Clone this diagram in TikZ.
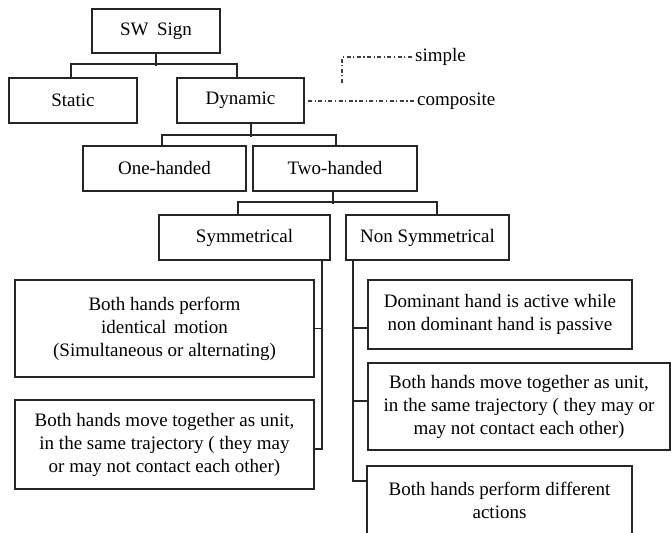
\documentclass[tikz,border=0pt]{standalone}
\usepackage{fontspec}
\setmainfont{Liberation Serif}
\begin{document}
\begin{tikzpicture}[x=1pt,y=-1pt,
  box/.style={draw=black!85,line width=1.6pt,rectangle,inner sep=0pt,align=center,
    font=\fontsize{19}{23}\selectfont,text=black},
  conn/.style={draw=black!85,line width=1.6pt},
  leg/.style={draw=black!75,line width=1.1pt,dash pattern=on 4pt off 2.5pt on 1.2pt off 2.5pt},
  legtext/.style={font=\fontsize{19}{23}\selectfont,inner sep=2pt,anchor=west}]
\useasboundingbox (0,0) rectangle (671,532);
% boxes
\node[box,minimum width=128,minimum height=44] (sw) at (156,31) {SW\hspace{0.45em}Sign};
\node[box,minimum width=128,minimum height=45] (static) at (73,100.5) {Static};
\node[box,minimum width=127,minimum height=45] (dyn) at (240.5,100.5) {Dynamic};
\node[box,minimum width=163,minimum height=45] (one) at (164.5,168.5) {One-handed};
\node[box,minimum width=164,minimum height=45] (two) at (335,168.5) {Two-handed};
\node[box,minimum width=171,minimum height=45] (sym) at (244.5,237.5) {Symmetrical};
\node[box,minimum width=163,minimum height=45] (nsym) at (427.5,237.5) {Non Symmetrical};
\node[box,minimum width=299,minimum height=97] (b1) at (164.5,328.5)
  {Both hands perform\\identical\hspace{0.4em}motion\\(Simultaneous or alternating)};
\node[box,minimum width=299,minimum height=89] (b2) at (164.5,444.5)
  {\raisebox{-4pt}{\parbox{290pt}{\centering Both hands move together as unit,\\in the same trajectory ( they may\\or may not contact each other)}}};
\node[box,minimum width=264,minimum height=69] (na) at (500,314.5)
  {Dominant hand is active while\\non dominant hand is passive};
\node[box,minimum width=302,minimum height=87] (nb) at (519,406.5)
  {\raisebox{-5pt}{\parbox{296pt}{\centering Both hands move together as unit,\\in the same trajectory ( they may or\\may not contact each other)}}};
\node[box,minimum width=265,minimum height=70,anchor=north] (nc) at (499.5,465)
  {Both hands perform different\\actions};
% connectors
\draw[conn] (sw.south) -- ++(0,12);
\draw[conn] ([xshift=-2pt]static.north) -- ++(0,-13) -| ([xshift=-3.5pt]dyn.north);
\draw[conn] ([xshift=10.5pt]dyn.south) -- ++(0,13);
\draw[conn] ([xshift=-2.5pt]one.north) -- ++(0,-10) -| ([xshift=1pt]two.north);
\draw[conn] ([xshift=-2pt]two.south) -- ++(0,12);
\draw[conn] ([xshift=-6.5pt]sym.north) -- ++(0,-12) -| ([xshift=9.5pt]nsym.north);
% symmetrical branch
\coordinate (st) at (322,260);
\coordinate (sb) at (322,449);
\draw[conn] (st) -- (sb) -- (sb -| b2.east);
\draw[conn] (b1.east) -- (b1.east -| st);
% non symmetrical branch
\coordinate (nt) at (353,260);
\coordinate (nbt) at (353,481);
\draw[conn] (nt) -- (nbt) -- (nbt -| nc.west);
\coordinate (na2) at (353,328);
\coordinate (nb2) at (353,401);
\draw[conn] (na2) -- (na2 -| na.west);
\draw[conn] (nb2) -- (nb2 -| nb.west);
% legend
\node[legtext] (lsimple) at (413,57) {simple};
\node[legtext] (lcomp) at (415,101) {composite};
\coordinate (l1) at (342,83);
\coordinate (l2) at (308,101);
\draw[leg] (l1) |- (lsimple.west);
\draw[leg] (l2) -- (lcomp.west);
\end{tikzpicture}
\end{document}
